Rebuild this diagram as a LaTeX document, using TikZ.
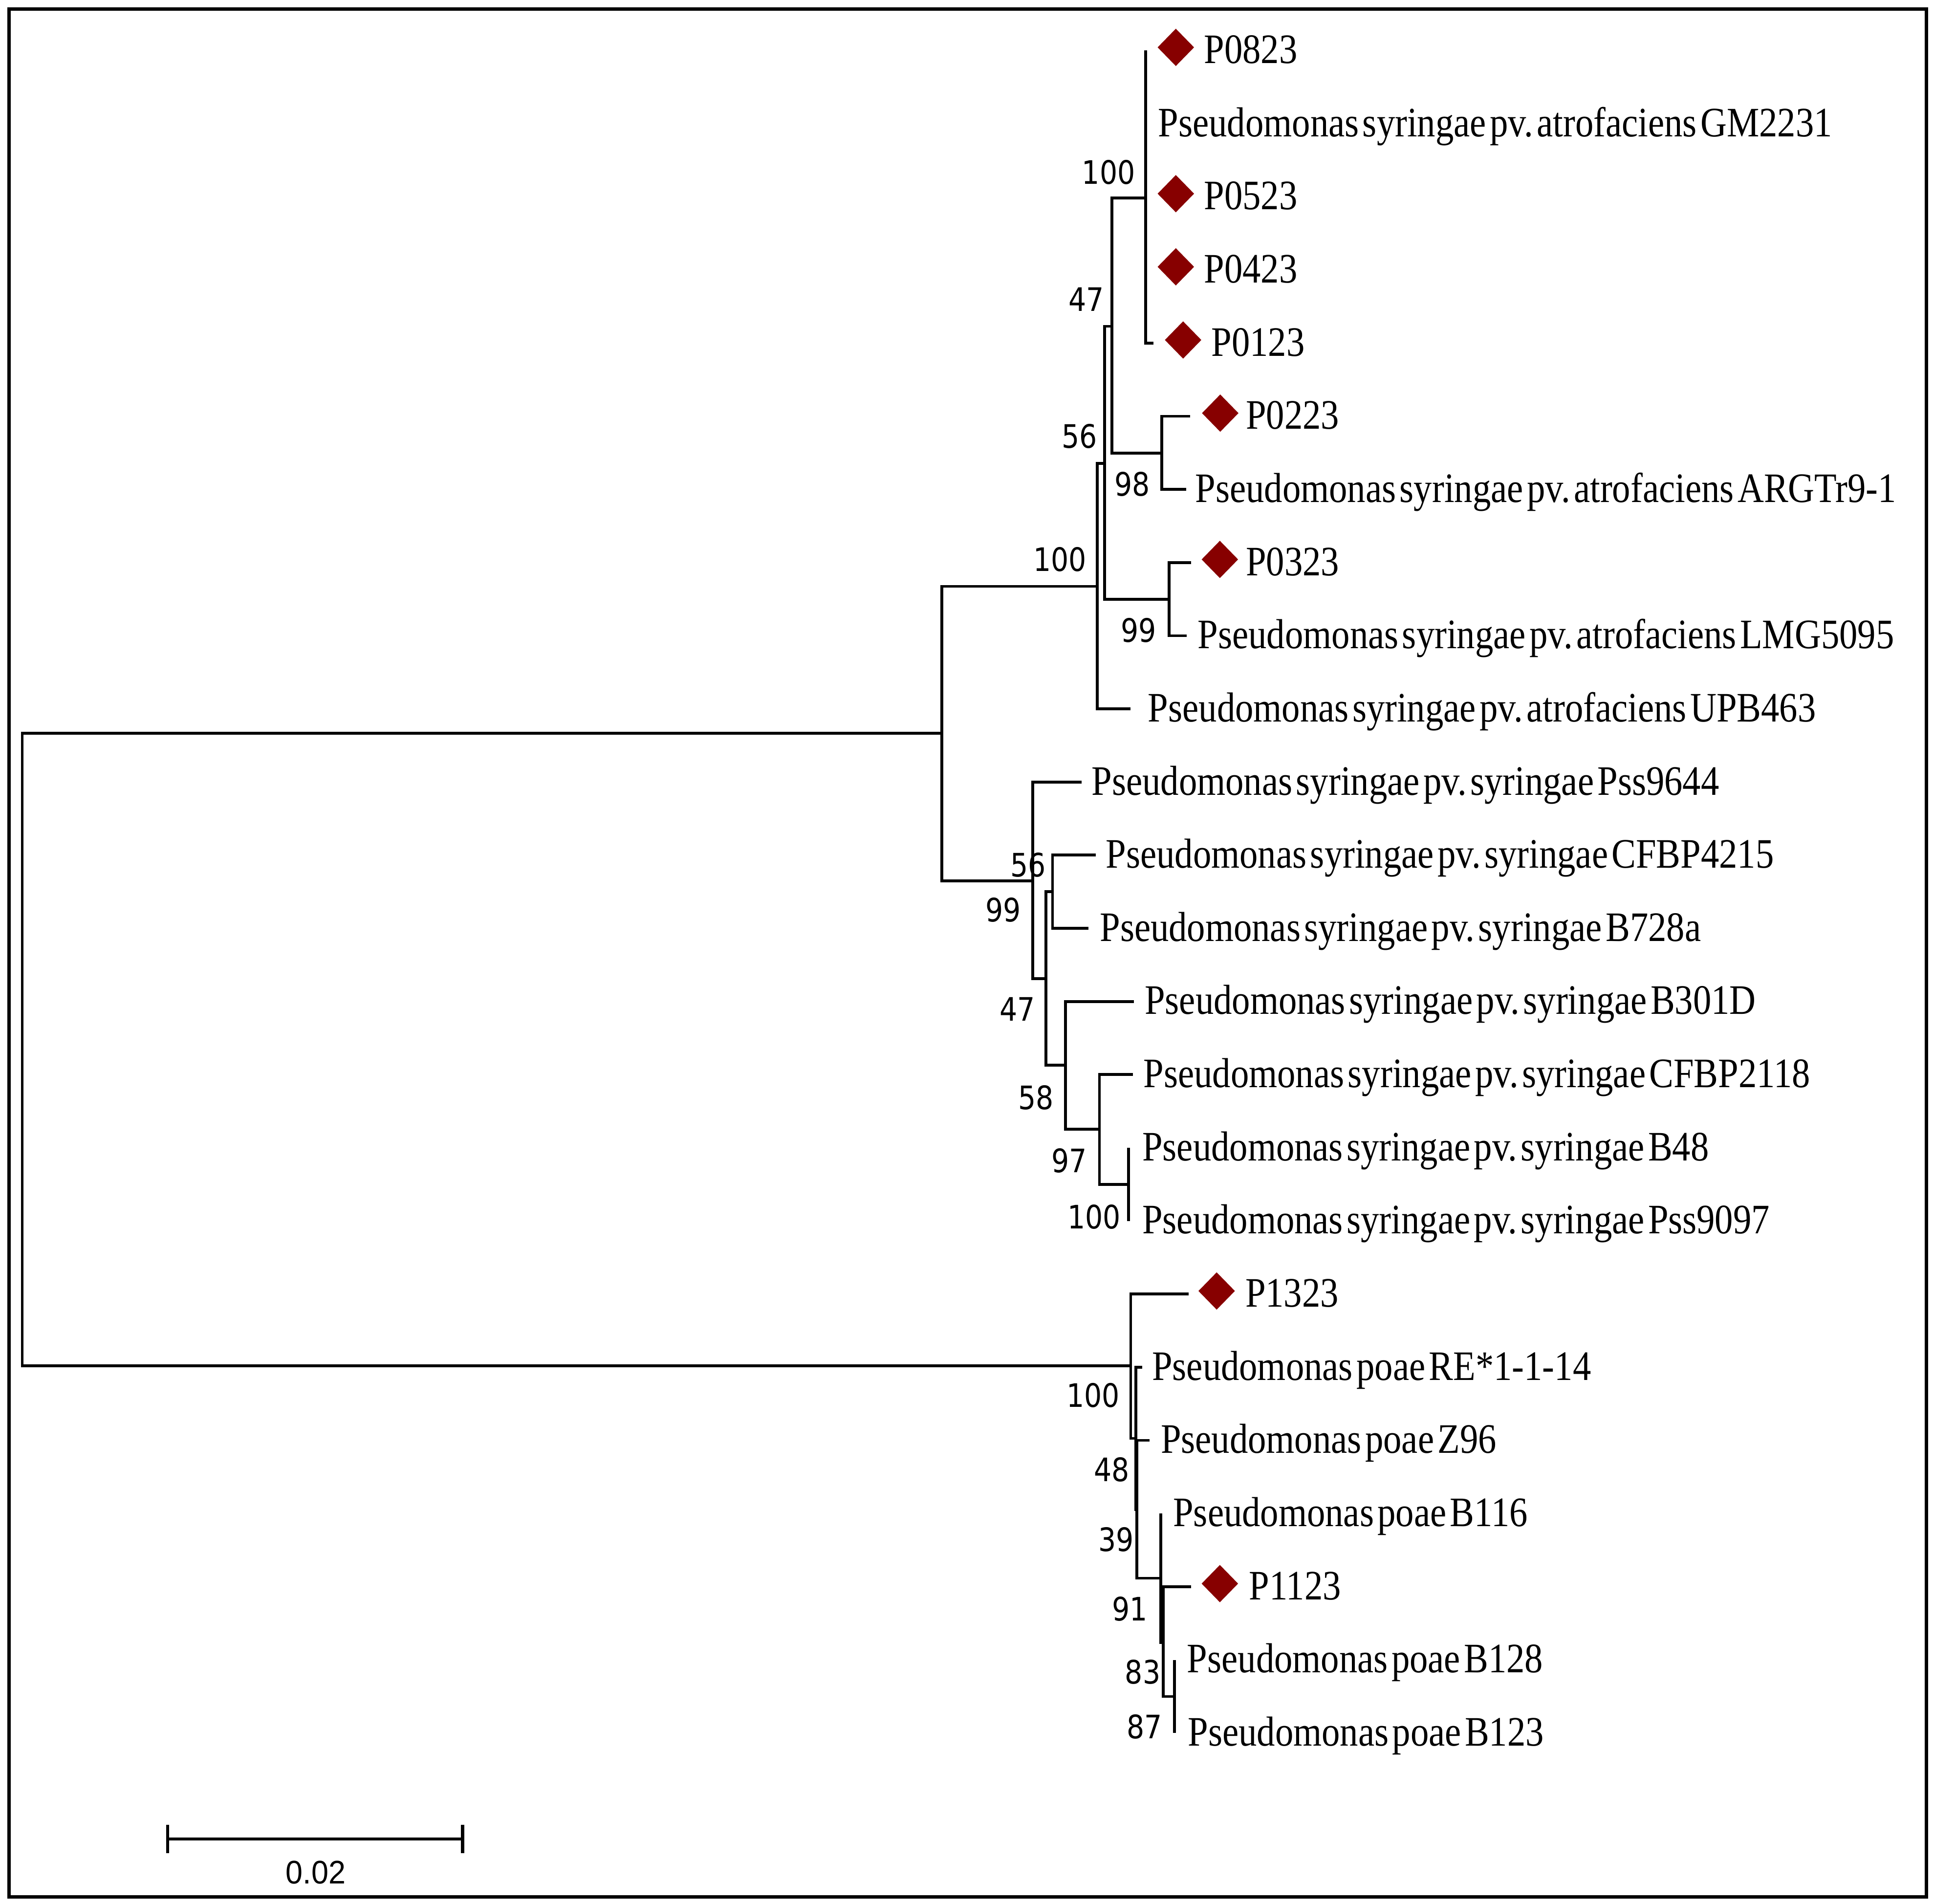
\documentclass[tikz,border=0pt]{standalone}
\usepackage{fontspec}
\usetikzlibrary{shapes.geometric}
\newfontfamily\leaffont[FakeStretch=0.87,WordSpace=0.4]{Liberation Serif}
\newfontfamily\bootfont[FakeStretch=0.86]{DejaVu Sans}
\newfontfamily\sbarfont[FakeStretch=0.94]{Liberation Sans}
\definecolor{markred}{RGB}{135,0,0}
\begin{document}
\begin{tikzpicture}[x=1pt,y=-1pt,
  branch/.style={line width=2.3pt},
  leaf/.style={anchor=base west, inner sep=0pt, font=\leaffont\fontsize{34}{40}\selectfont\frenchspacing},
  boot/.style={anchor=east, inner sep=0pt, font=\bootfont\fontsize{26.2}{30}\selectfont},
  isolate/.style={shape=diamond, fill=markred, draw=none, inner sep=0pt, minimum width=29.7pt, minimum height=30.4pt},
  framebox/.style={line width=2.8pt},
  scalebar/.style={line width=2.5pt}
]
\useasboundingbox (0,0) rectangle (1568,1543.4);
\draw[framebox] (7.4,7.5) rectangle (1562,1537.8);

% internal nodes
\coordinate (root) at (18,850.75);
\coordinate (A) at (763.5,594.5);
\coordinate (O) at (916.7,1107);
\coordinate (B) at (889.6,475.3);
\coordinate (C) at (837.4,714);
\coordinate (G) at (895.6,375.5);
\coordinate (F) at (901.5,264.5);
\coordinate (E) at (928.9,160.5);
\coordinate (H) at (942,367.2);
\coordinate (I) at (947.7,485.8);
\coordinate (K) at (848,793.3);
\coordinate (J) at (853.3,722.9);
\coordinate (L) at (863.8,863.5);
\coordinate (M) at (891.4,915.3);
\coordinate (N) at (915,960);
\coordinate (P) at (921,1166);
\coordinate (PP) at (921.8,1223.5);
\coordinate (Q) at (941,1279.3);
\coordinate (R) at (943.2,1331.5);
\coordinate (T) at (952.3,1375.2);

% leaf tips
\coordinate (t1) at (928.9,40.9);
\coordinate (t2) at (928.9,100.2);
\coordinate (t3) at (928.9,159.5);
\coordinate (t4) at (928.9,218.8);
\coordinate (t5) at (935,278.1);
\coordinate (t6) at (965,337.4);
\coordinate (t7) at (961.6,396.7);
\coordinate (t8) at (965.5,456);
\coordinate (t9) at (962.2,515.3);
\coordinate (t10) at (916.6,574.6);
\coordinate (t11) at (877,634);
\coordinate (t12) at (888.3,693.2);
\coordinate (t13) at (882.3,752.5);
\coordinate (t14) at (919.3,811.8);
\coordinate (t15) at (918.6,871);
\coordinate (t16) at (915,930.4);
\coordinate (t17) at (915,989.7);
\coordinate (t18) at (963.6,1049);
\coordinate (t19) at (926,1108.3);
\coordinate (t20) at (932,1167.6);
\coordinate (t21) at (941,1226.9);
\coordinate (t22) at (965.6,1286.2);
\coordinate (t23) at (952.3,1345.5);
\coordinate (t24) at (952.3,1404.8);

% branches
\draw[branch] (root) |- (A);
\draw[branch] (root) |- (O);
\draw[branch] (A) |- (B);
\draw[branch] (A) |- (C);
\draw[branch] (B) |- (G);
\draw[branch] (B) |- (t10);
\draw[branch] (G) |- (F);
\draw[branch] (G) |- (I);
\draw[branch] (F) |- (E);
\draw[branch] (F) |- (H);
\draw[branch] (E) |- (t1);
\draw[branch] (E) |- (t2);
\draw[branch] (E) |- (t3);
\draw[branch] (E) |- (t4);
\draw[branch] (E) |- (t5);
\draw[branch] (H) |- (t6);
\draw[branch] (H) |- (t7);
\draw[branch] (I) |- (t8);
\draw[branch] (I) |- (t9);
\draw[branch] (C) |- (t11);
\draw[branch] (C) |- (K);
\draw[branch] (K) |- (J);
\draw[branch] (K) |- (L);
\draw[branch] (J) |- (t12);
\draw[branch] (J) |- (t13);
\draw[branch] (L) |- (t14);
\draw[branch] (L) |- (M);
\draw[branch] (M) |- (t15);
\draw[branch] (M) |- (N);
\draw[branch] (N) |- (t16);
\draw[branch] (N) |- (t17);
\draw[branch] (O) |- (t18);
\draw[branch] (O) |- (P);
\draw[branch] (P) |- (t19);
\draw[branch] (P) |- (PP);
\draw[branch] (PP) |- (t20);
\draw[branch] (PP) |- (Q);
\draw[branch] (Q) |- (t21);
\draw[branch] (Q) |- (R);
\draw[branch] (R) |- (t22);
\draw[branch] (R) |- (T);
\draw[branch] (T) |- (t23);
\draw[branch] (T) |- (t24);

% markers
\node[isolate] (d1) at (953.3,38.4) {};
\node[isolate] (d3) at (953.3,157) {};
\node[isolate] (d4) at (953.3,216.3) {};
\node[isolate] (d5) at (959.2,275.6) {};
\node[isolate] (d6) at (989.3,334.9) {};
\node[isolate] (d8) at (989,453.5) {};
\node[isolate] (d18) at (986.4,1046.5) {};
\node[isolate] (d22) at (989,1283.7) {};

% leaf labels
\node[leaf] (l1) at (976,51.3) {P0823};
\node[leaf] (l2) at (938.9,110.6) {Pseudomonas syringae pv. atrofaciens GM2231};
\node[leaf] (l3) at (976,169.9) {P0523};
\node[leaf] (l4) at (976,229.2) {P0423};
\node[leaf] (l5) at (982,288.5) {P0123};
\node[leaf] (l6) at (1010,347.8) {P0223};
\node[leaf] (l7) at (969,407.1) {Pseudomonas syringae pv. atrofaciens ARGTr9-1};
\node[leaf] (l8) at (1010,466.4) {P0323};
\node[leaf] (l9) at (971,525.7) {Pseudomonas syringae pv. atrofaciens LMG5095};
\node[leaf] (l10) at (930.6,585) {Pseudomonas syringae pv. atrofaciens UPB463};
\node[leaf] (l11) at (885,644.4) {Pseudomonas syringae pv. syringae Pss9644};
\node[leaf] (l12) at (896.5,703.6) {Pseudomonas syringae pv. syringae CFBP4215};
\node[leaf] (l13) at (891.6,762.9) {Pseudomonas syringae pv. syringae B728a};
\node[leaf] (l14) at (928,822.2) {Pseudomonas syringae pv. syringae B301D};
\node[leaf] (l15) at (927,881.4) {Pseudomonas syringae pv. syringae CFBP2118};
\node[leaf] (l16) at (926,940.8) {Pseudomonas syringae pv. syringae B48};
\node[leaf] (l17) at (926,1000.1) {Pseudomonas syringae pv. syringae Pss9097};
\node[leaf] (l18) at (1009.5,1059.4) {P1323};
\node[leaf] (l19) at (933.9,1118.7) {Pseudomonas poae RE*1-1-14};
\node[leaf] (l20) at (941,1178) {Pseudomonas poae Z96};
\node[leaf] (l21) at (951,1237.3) {Pseudomonas poae B116};
\node[leaf] (l22) at (1012.5,1296.6) {P1123};
\node[leaf] (l23) at (962.3,1355.9) {Pseudomonas poae B128};
\node[leaf] (l24) at (963,1415.2) {Pseudomonas poae B123};

% bootstrap values
\node[boot] (bE) at (920.5,139.5) {100};
\node[boot] (bF) at (895.3,242.5) {47};
\node[boot] (bG) at (889.6,353.7) {56};
\node[boot] (bB) at (881,453.3) {100};
\node[boot] (bH) at (932.5,392.3) {98};
\node[boot] (bI) at (937.8,510.8) {99};
\node[boot] (bJ) at (848,701) {56};
\node[boot] (bC) at (828,737.7) {99};
\node[boot] (bK) at (839.5,818.2) {47};
\node[boot] (bL) at (854.3,889.6) {58};
\node[boot] (bM) at (881.5,941) {97};
\node[boot] (bN) at (908.8,986.3) {100};
\node[boot] (bO) at (908,1131) {100};
\node[boot] (bP) at (916,1191.4) {48};
\node[boot] (bPP) at (919.3,1248) {39};
\node[boot] (bQ) at (930.5,1304.4) {91};
\node[boot] (bR) at (941,1355.2) {83};
\node[boot] (bT) at (942.3,1399.6) {87};

% scale bar
\coordinate (sbL) at (136,1490.6);
\coordinate (sbR) at (375,1490.6);
\draw[scalebar] (sbL) -- (sbR);
\draw[scalebar] ([yshift=11.5pt]sbL) -- ([yshift=-11.5pt]sbL);
\draw[scalebar] ([yshift=11.5pt]sbR) -- ([yshift=-11.5pt]sbR);
\node[inner sep=0pt, font=\sbarfont\fontsize{26.5}{30}\selectfont] (sblab) at (256,1518) {0.02};
\end{tikzpicture}
\end{document}
